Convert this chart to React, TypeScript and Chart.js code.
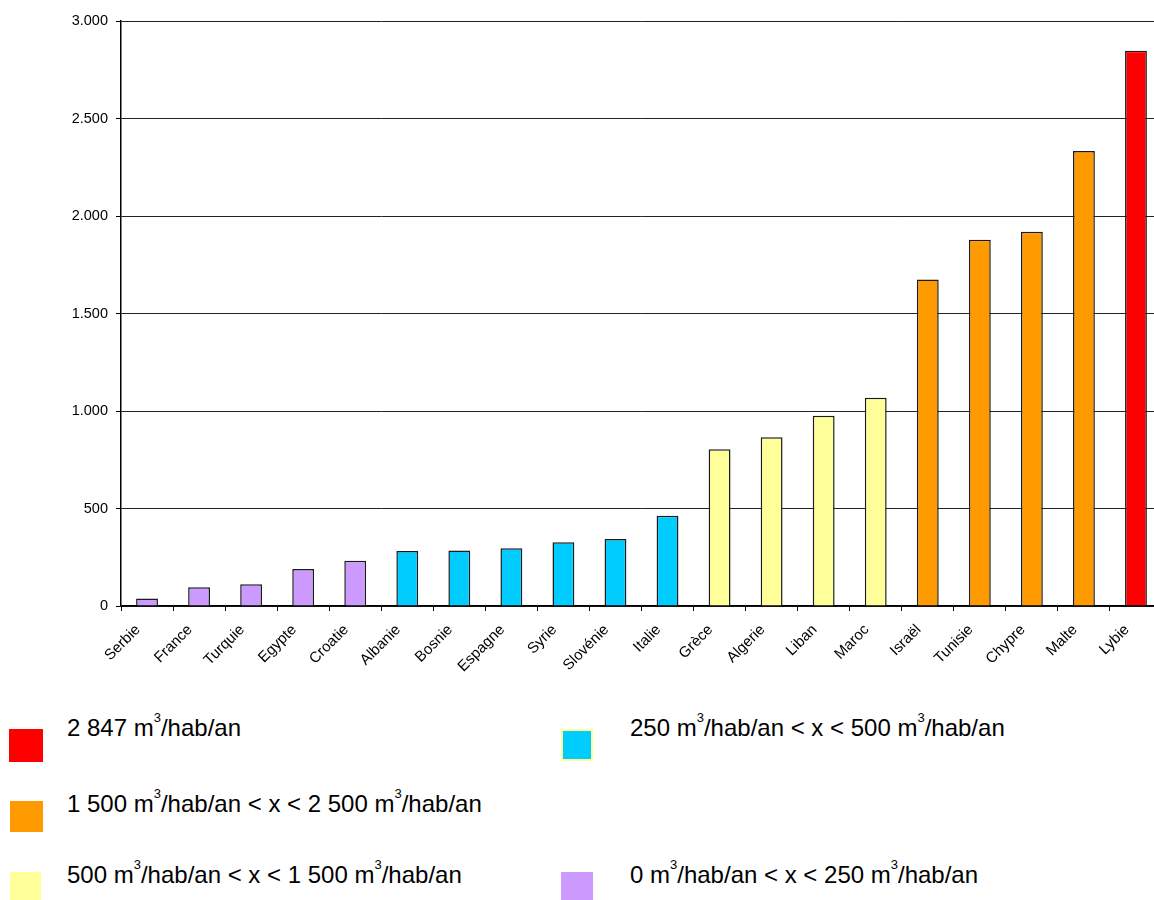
import React, { useEffect, useRef } from "react";
import { Chart, registerables } from "chart.js";

Chart.register(...registerables);

const categories = [
  "Serbie", "France", "Turquie", "Egypte", "Croatie", "Albanie", "Bosnie", "Espagne", "Syrie", "Slovénie",
  "Italie", "Grèce", "Algerie", "Liban", "Maroc", "Israël", "Tunisie", "Chypre", "Malte", "Lybie",
];
const values = [38, 96, 112, 190, 232, 282, 285, 296, 327, 344, 463, 804, 866, 976, 1068, 1674, 1878, 1919, 2333, 2847];
const yMax = 3000;
const yStep = 500;

const RED = "#ff0000";
const ORANGE = "#ff9900";
const YELLOW = "#ffff99";
const BLUE = "#00ccff";
const PURPLE = "#cc99ff";

function colorFor(v: number): string {
  if (v > 2500) return RED;
  if (v > 1500) return ORANGE;
  if (v > 500) return YELLOW;
  if (v > 250) return BLUE;
  return PURPLE;
}

const FONT = "'Liberation Sans', Arial, sans-serif";

function fmt(v: number): string {
  const s = String(Math.round(v));
  return s.replace(/\B(?=(\d{3})+(?!\d))/g, ".");
}

type LegendItem = { color: string; border?: string; left: number; top: number; sqLeft: number; sqTop: number; sqW: number; sqH: number; parts: string[] };

const legendItems: LegendItem[] = [
  { color: RED, left: 67, top: 716, sqLeft: 9, sqTop: 729, sqW: 34, sqH: 33, parts: ["2 847 m", "/hab/an"] },
  { color: ORANGE, left: 67, top: 792, sqLeft: 10, sqTop: 801, sqW: 33, sqH: 31, parts: ["1 500 m", "/hab/an < x < 2 500 m", "/hab/an"] },
  { color: YELLOW, left: 67, top: 863, sqLeft: 10, sqTop: 872, sqW: 31, sqH: 30, parts: ["500 m", "/hab/an < x < 1 500 m", "/hab/an"] },
  { color: BLUE, border: "#ffff99", left: 630, top: 716, sqLeft: 561, sqTop: 729, sqW: 32, sqH: 32, parts: ["250 m", "/hab/an < x < 500 m", "/hab/an"] },
  { color: PURPLE, left: 630, top: 863, sqLeft: 561, sqTop: 872, sqW: 32, sqH: 30, parts: ["0 m", "/hab/an < x < 250 m", "/hab/an"] },
];

function LegendText({ parts }: { parts: string[] }) {
  const out: React.ReactNode[] = [];
  parts.forEach((p, i) => {
    out.push(<span key={"t" + i}>{p}</span>);
    if (i < parts.length - 1) {
      out.push(
        <span key={"s" + i} style={{ fontSize: 13, position: "relative", top: -14 }}>
          3
        </span>
      );
    }
  });
  return <>{out}</>;
}

export default function App() {
  const canvasRef = useRef<HTMLCanvasElement | null>(null);

  useEffect(() => {
    const canvas = canvasRef.current;
    if (!canvas) return;
    const chart = new Chart(canvas, {
      type: "bar",
      data: {
        labels: categories,
        datasets: [
          {
            data: values,
            backgroundColor: values.map(colorFor),
            borderColor: "#1a1a1a",
            borderWidth: 1.5,
            barPercentage: 0.42,
            categoryPercentage: 1,
          },
        ],
      },
      options: {
        animation: false,
        responsive: false,
        maintainAspectRatio: false,
        layout: { padding: { top: 21, left: 0, right: 0, bottom: 0 } },
        plugins: { legend: { display: false }, tooltip: { enabled: false } },
        scales: {
          x: {
            offset: true,
            grid: {
              offset: true,
              drawOnChartArea: false,
              drawTicks: true,
              tickLength: 5,
              color: "#000",
              lineWidth: 1,
            },
            border: { display: true, color: "#000", width: 1.5 },
            ticks: {
              autoSkip: false,
              maxRotation: 45,
              minRotation: 45,
              padding: 10,
              labelOffset: -9,
              color: "#000",
              font: { family: FONT, size: 15 },
            },
            afterFit: (scale: any) => {
              scale.height = 94;
            },
          },
          y: {
            min: 0,
            max: yMax,
            grid: {
              color: "#222",
              lineWidth: 1,
              drawTicks: true,
              tickLength: 5,
              tickColor: "#000",
            },
            border: { display: true, color: "#000", width: 1.5 },
            ticks: {
              stepSize: yStep,
              padding: 8,
              color: "#000",
              font: { family: FONT, size: 14.5 },
              callback: (v: any) => fmt(Number(v)),
            },
            afterFit: (scale: any) => {
              scale.width = 121;
            },
          },
        },
      },
    });
    return () => chart.destroy();
  }, []);

  return (
    <div style={{ position: "absolute", left: 0, top: 0, width: 1154, height: 900, overflow: "hidden", background: "#fff" }}>
      <canvas ref={canvasRef} width={1162} height={700} style={{ position: "absolute", left: 0, top: 0, width: 1162, height: 700 }} />
      {legendItems.map((it, i) => (
        <React.Fragment key={i}>
          <div
            style={{
              position: "absolute",
              left: it.sqLeft,
              top: it.sqTop,
              width: it.sqW,
              height: it.sqH,
              background: it.color,
              boxSizing: "border-box",
              border: it.border ? `2px solid ${it.border}` : "none",
            }}
          />
          <div
            style={{
              position: "absolute",
              left: it.left,
              top: it.top,
              fontFamily: FONT,
              fontSize: 24,
              lineHeight: "24px",
              whiteSpace: "nowrap",
              color: "#000",
            }}
          >
            <LegendText parts={it.parts} />
          </div>
        </React.Fragment>
      ))}
    </div>
  );
}
